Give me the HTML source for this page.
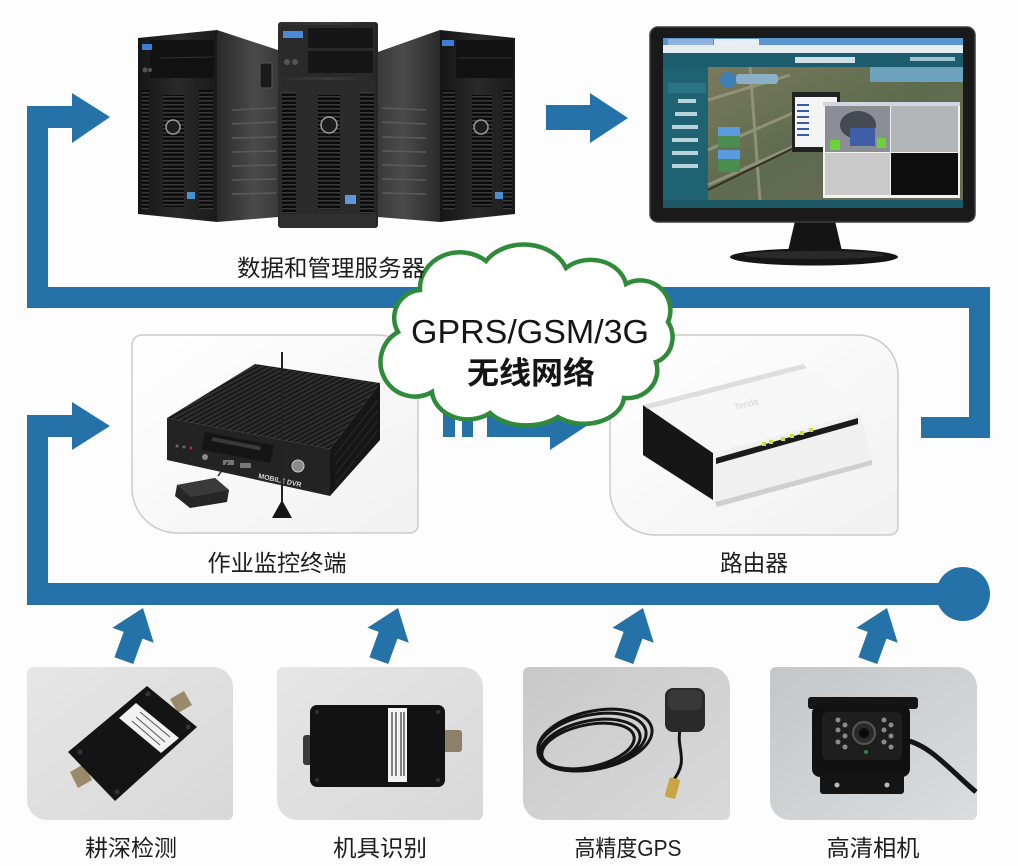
<!DOCTYPE html>
<html><head><meta charset="utf-8"><style>
html,body{margin:0;padding:0;background:#fdfdfd;}
svg{display:block;}
text{font-family:"Liberation Sans","Noto Sans CJK SC",sans-serif;}
</style></head><body>
<svg width="1018" height="866" viewBox="0 0 1018 866" xmlns="http://www.w3.org/2000/svg">
<defs>
<linearGradient id="gFront" x1="0" y1="0" x2="1" y2="0"><stop offset="0" stop-color="#151515"/><stop offset="0.5" stop-color="#2a2a2a"/><stop offset="1" stop-color="#1a1a1a"/></linearGradient>
<linearGradient id="gSideL" x1="0" y1="0" x2="1" y2="0"><stop offset="0" stop-color="#2a2a2a"/><stop offset="0.6" stop-color="#4a4a4a"/><stop offset="1" stop-color="#3a3a3a"/></linearGradient>
<linearGradient id="gSideR" x1="0" y1="0" x2="1" y2="0"><stop offset="0" stop-color="#3a3a3a"/><stop offset="0.4" stop-color="#4a4a4a"/><stop offset="1" stop-color="#2a2a2a"/></linearGradient>
<linearGradient id="gMid" x1="0" y1="0" x2="1" y2="0"><stop offset="0" stop-color="#2c2c2c"/><stop offset="0.5" stop-color="#3a3a3a"/><stop offset="1" stop-color="#262626"/></linearGradient>
<pattern id="slat" width="6" height="4" patternUnits="userSpaceOnUse"><rect width="6" height="4" fill="#0c0c0c"/><rect width="6" height="1.5" fill="#3a3a3a"/></pattern>
<pattern id="fins" width="4" height="4" patternUnits="userSpaceOnUse" patternTransform="rotate(62)"><rect width="4" height="4" fill="#2e2e2e"/><rect width="1.5" height="4" fill="#141414"/></pattern>
<linearGradient id="gCardW" x1="0" y1="0" x2="1" y2="1"><stop offset="0" stop-color="#ffffff"/><stop offset="1" stop-color="#f1f1f1"/></linearGradient>
<linearGradient id="gCard1" x1="0" y1="0" x2="1" y2="1"><stop offset="0" stop-color="#e6e6e6"/><stop offset="1" stop-color="#d8d8d8"/></linearGradient>
<linearGradient id="gCard3" x1="0" y1="0" x2="1" y2="1"><stop offset="0" stop-color="#c9c9c9"/><stop offset="1" stop-color="#d9d9d9"/></linearGradient>
<linearGradient id="gCard4" x1="0" y1="0" x2="1" y2="1"><stop offset="0" stop-color="#c4c6c8"/><stop offset="1" stop-color="#dadcde"/></linearGradient>
<linearGradient id="gMap" x1="0" y1="0" x2="1" y2="1"><stop offset="0" stop-color="#7a7a5c"/><stop offset="0.5" stop-color="#5e6b4e"/><stop offset="1" stop-color="#6c6a55"/></linearGradient>
</defs>

<rect width="1018" height="866" fill="#fdfdfd"/>

<!-- ===== BLUE CONNECTORS ===== -->
<g fill="#2572a8">
  <rect x="27" y="106" width="21" height="202"/>
  <rect x="27" y="106" width="46" height="22"/>
  <polygon points="72,93 110,117 72,143"/>
  <rect x="27" y="287" width="963" height="21"/>
  <rect x="969" y="287" width="21" height="151"/>
  <rect x="921" y="417" width="69" height="21"/>
  <rect x="546" y="105" width="45" height="25"/>
  <polygon points="590,93 628,118 590,143"/>
  <rect x="27" y="415" width="21" height="190"/>
  <rect x="27" y="415" width="46" height="22"/>
  <polygon points="72,402 110,426 72,450"/>
  <rect x="27" y="583" width="936" height="22"/>
  <circle cx="963" cy="594" r="27"/>
  <rect x="443" y="413" width="12" height="24"/>
  <rect x="462" y="413" width="11" height="24"/>
  <rect x="487" y="413" width="65" height="24"/>
  <polygon points="550,400 588,425 550,450"/>
  <g transform="translate(143,608) rotate(20)"><polygon points="0,0 22,29 10,29 10,56 -10,56 -10,29 -22,29"/></g>
  <g transform="translate(398,608) rotate(20)"><polygon points="0,0 22,29 10,29 10,56 -10,56 -10,29 -22,29"/></g>
  <g transform="translate(643,608) rotate(20)"><polygon points="0,0 22,29 10,29 10,56 -10,56 -10,29 -22,29"/></g>
  <g transform="translate(887,608) rotate(20)"><polygon points="0,0 22,29 10,29 10,56 -10,56 -10,29 -22,29"/></g>
</g>

<!-- ===== SERVERS ===== -->
<polygon points="217,30 278,50 278,217 217,222" fill="url(#gSideL)"/>
<g stroke="#5a5a5a" stroke-width="1.5">
  <line x1="232" y1="110" x2="276" y2="108"/><line x1="232" y1="124" x2="276" y2="122"/><line x1="232" y1="138" x2="276" y2="137"/><line x1="232" y1="152" x2="276" y2="151"/><line x1="232" y1="166" x2="276" y2="165"/><line x1="232" y1="180" x2="276" y2="179"/><line x1="232" y1="194" x2="276" y2="193"/>
</g>
<rect x="260" y="63" width="12" height="25" rx="2" fill="#1a1a1a" stroke="#555"/>
<polygon points="138,38 217,30 217,222 138,214" fill="url(#gFront)"/>
<rect x="150" y="40" width="64" height="38" fill="#121212"/>
<line x1="160" y1="58" x2="213" y2="57" stroke="#333"/>
<rect x="142" y="44" width="10" height="6" fill="#3d7fd4"/>
<circle cx="145" cy="70" r="2.5" fill="#555"/><circle cx="150" cy="70" r="2" fill="#555"/>
<rect x="142" y="90" width="7" height="120" fill="url(#slat)"/>
<rect x="163" y="95" width="21" height="112" fill="url(#slat)"/>
<rect x="199" y="90" width="14" height="120" fill="url(#slat)"/>
<circle cx="173" cy="127" r="7" fill="#1d1d1d" stroke="#9a9a9a" stroke-width="1.5"/>
<rect x="187" y="192" width="8" height="7" fill="#4a8fd0"/>
<polygon points="378,52 440,30 440,222 378,217" fill="url(#gSideR)"/>
<g stroke="#5a5a5a" stroke-width="1.5">
  <line x1="382" y1="108" x2="426" y2="110"/><line x1="382" y1="122" x2="426" y2="124"/><line x1="382" y1="137" x2="426" y2="138"/><line x1="382" y1="151" x2="426" y2="152"/><line x1="382" y1="165" x2="426" y2="166"/><line x1="382" y1="179" x2="426" y2="180"/><line x1="382" y1="193" x2="426" y2="194"/>
</g>
<polygon points="440,30 515,38 515,214 440,222" fill="url(#gFront)"/>
<rect x="456" y="40" width="57" height="38" fill="#121212"/>
<line x1="458" y1="58" x2="512" y2="58" stroke="#333"/>
<rect x="442" y="40" width="12" height="6" fill="#3d7fd4"/>
<rect x="443" y="90" width="12" height="120" fill="url(#slat)"/>
<rect x="472" y="95" width="20" height="112" fill="url(#slat)"/>
<rect x="503" y="90" width="9" height="120" fill="url(#slat)"/>
<circle cx="481" cy="127" r="7" fill="#1d1d1d" stroke="#9a9a9a" stroke-width="1.5"/>
<rect x="495" y="192" width="8" height="7" fill="#4a8fd0"/>
<rect x="278" y="22" width="100" height="206" rx="3" fill="url(#gMid)"/>
<rect x="281" y="25" width="94" height="52" fill="#2a2a2a"/>
<rect x="308" y="28" width="65" height="20" fill="#161616"/>
<rect x="308" y="51" width="65" height="22" fill="#161616"/>
<rect x="283" y="31" width="20" height="7" fill="#4a8ad8"/>
<circle cx="287" cy="62" r="3" fill="#555"/><circle cx="295" cy="62" r="3" fill="#555"/>
<path d="M281,80 L375,80 L375,88 L360,95 L360,215 L296,215 L296,95 L281,88 Z" fill="#2b2b2b"/>
<rect x="282" y="92" width="14" height="122" fill="url(#slat)"/>
<rect x="318" y="95" width="22" height="115" fill="url(#slat)"/>
<rect x="360" y="92" width="14" height="122" fill="url(#slat)"/>
<circle cx="329" cy="125" r="8" fill="#1d1d1d" stroke="#a0a0a0" stroke-width="1.5"/>
<rect x="345" y="195" width="11" height="9" fill="#5a9ad8"/>
<rect x="280" y="214" width="96" height="14" fill="#303030"/>

<!-- ===== MONITOR ===== -->
<polygon points="795,221 835,221 842,251 788,251" fill="#141414"/>
<ellipse cx="814" cy="257" rx="84" ry="8.5" fill="#151515"/>
<ellipse cx="814" cy="255" rx="70" ry="4" fill="#2a2a2a"/>
<rect x="650" y="27" width="325" height="195" rx="8" fill="#1a1a1a" stroke="#3c3c3c" stroke-width="1.5"/>
<rect x="663" y="38" width="300" height="170" fill="#1d5f6e"/>
<rect x="663" y="38" width="300" height="7" fill="#5b93cf"/>
<rect x="668" y="39" width="45" height="6" fill="#8fb3de"/>
<rect x="714" y="39" width="45" height="6" fill="#e8eef5"/>
<rect x="663" y="45" width="300" height="8" fill="#e7ecf1"/>
<rect x="663" y="53" width="300" height="14" fill="#1d5c6c"/>
<rect x="795" y="57" width="60" height="6" fill="#cfe0e6"/>
<rect x="910" y="57" width="45" height="4" fill="#9fc4cf"/>
<rect x="663" y="67" width="45" height="136" fill="#1f6373"/>
<g fill="#b8d4da"><rect x="678" y="86" width="18" height="4"/><rect x="678" y="99" width="18" height="4"/><rect x="675" y="112" width="22" height="4"/><rect x="672" y="125" width="26" height="4"/><rect x="672" y="138" width="26" height="4"/><rect x="672" y="151" width="26" height="4"/><rect x="672" y="164" width="26" height="4"/></g>
<rect x="668" y="83" width="38" height="10" fill="#2a7384"/>
<rect x="708" y="67" width="255" height="133" fill="url(#gMap)"/>
<g stroke="#9a9a82" stroke-width="3" fill="none" opacity="0.8">
  <path d="M708,185 L830,130"/><path d="M708,150 L800,110"/><path d="M750,67 L760,200"/><path d="M708,100 L790,75"/>
</g>
<path d="M708,190 L810,140" stroke="#3a2e24" stroke-width="2" fill="none"/>
<rect x="870" y="67" width="93" height="15" fill="#6da2bd"/>
<circle cx="728" cy="80" r="8" fill="#3f7fb5"/>
<rect x="736" y="74" width="42" height="10" rx="3" fill="#8ab0c6"/>
<rect x="718" y="127" width="22" height="20" fill="#4b8c4f"/><rect x="718" y="127" width="22" height="9" fill="#5a9be0"/>
<rect x="718" y="150" width="22" height="22" fill="#4b8c4f"/><rect x="718" y="150" width="22" height="9" fill="#5a9be0"/>
<rect x="792" y="92" width="48" height="60" fill="#222"/>
<rect x="795" y="97" width="42" height="50" fill="#f4f4f4"/>
<g fill="#3a5aa8"><rect x="797" y="104" width="12" height="2"/><rect x="797" y="110" width="12" height="2"/><rect x="797" y="116" width="12" height="2"/><rect x="797" y="122" width="12" height="2"/><rect x="797" y="128" width="12" height="2"/><rect x="797" y="134" width="12" height="2"/></g>
<rect x="823" y="102" width="137" height="96" fill="#f2f2f2"/>
<rect x="823" y="102" width="137" height="4" fill="#cfd6df"/>
<rect x="825" y="106" width="65" height="46" fill="#8b8f95"/>
<ellipse cx="858" cy="125" rx="18" ry="14" fill="#454a52"/>
<rect x="850" y="128" width="25" height="18" fill="#3e5fa8"/>
<rect x="830" y="140" width="10" height="10" fill="#6ed13a"/><rect x="877" y="138" width="9" height="10" fill="#6ed13a"/>
<rect x="891" y="106" width="67" height="46" fill="#b3b6b8"/>
<rect x="825" y="153" width="65" height="42" fill="#c9c9ca"/>
<rect x="891" y="153" width="67" height="42" fill="#0e0e0e"/>
<rect x="663" y="200" width="300" height="8" fill="#1d5867"/>

<!-- ===== MIDDLE CARDS ===== -->
<path d="M142,335 L378,335 A40,40 0 0 1 418,375 L418,525 A8,8 0 0 1 410,533 L177,533 A45,45 0 0 1 132,488 L132,345 A10,10 0 0 1 142,335 Z" fill="url(#gCardW)" stroke="#cbcbcb" stroke-width="1.5"/>
<path d="M620,335 L858,335 A40,40 0 0 1 898,375 L898,527 A8,8 0 0 1 890,535 L655,535 A45,45 0 0 1 610,490 L610,345 A10,10 0 0 1 620,335 Z" fill="url(#gCardW)" stroke="#cbcbcb" stroke-width="1.5"/>

<!-- terminal device -->
<polygon points="167,418 255,364 380,383 330,449" fill="url(#fins)"/>
<polygon points="330,449 380,383 380,440 330,496" fill="#161616"/>
<g stroke="#2c2c2c" stroke-width="1"><line x1="335" y1="455" x2="378" y2="400"/><line x1="335" y1="465" x2="378" y2="410"/><line x1="335" y1="475" x2="378" y2="420"/><line x1="335" y1="485" x2="378" y2="430"/></g>
<polygon points="167,418 330,449 330,496 167,460" fill="#232323"/>
<rect x="205" y="432" width="70" height="18" fill="#151515" transform="rotate(11 205 432)"/>
<rect x="212" y="437" width="50" height="4" rx="2" fill="#3a3a3a" transform="rotate(11 212 437)"/>
<circle cx="177" cy="446" r="1.5" fill="#6a6a6a"/><circle cx="184" cy="447" r="1.5" fill="#6a6a6a"/><circle cx="191" cy="448" r="1.5" fill="#c03030"/>
<circle cx="205" cy="457" r="3" fill="#888"/>
<rect x="223" y="460" width="11" height="5" fill="#777"/><rect x="240" y="463" width="11" height="5" fill="#777"/>
<circle cx="298" cy="466" r="6" fill="#8a8a8a" stroke="#ccc"/>
<text x="258" y="478" font-size="7" fill="#d8d8d8" font-weight="bold" transform="rotate(12 258 478)">MOBILE DVR</text>
<line x1="282" y1="352" x2="282" y2="508" stroke="#222" stroke-width="2"/>
<polygon points="282,500 272,518 292,518" fill="#151515"/>
<line x1="218" y1="476" x2="228" y2="462" stroke="#222" stroke-width="1.5"/>
<path d="M177,485 L215,478 L229,490 L227,502 L190,508 L175,496 Z" fill="#262626"/>
<path d="M177,485 L215,478 L229,490 L191,497 Z" fill="#3a3a3a"/>

<!-- router -->
<polygon points="643,405 713,453 713,500 643,455" fill="#161616"/>
<polygon points="713,453 860,413 872,460 715,502" fill="#f0f0f0"/>
<polygon points="643,405 803,364 860,410 713,453" fill="#f7f7f7"/>
<polygon points="643,405 803,364 807,368 648,409" fill="#dedede"/>
<polygon points="716,458 858,418 858,424 716,464" fill="#1a1a1a"/>
<g fill="#cde02a"><rect x="762" y="442" width="4" height="4"/><rect x="769" y="440" width="4" height="4"/><rect x="781" y="437" width="4" height="4"/><rect x="790" y="434" width="4" height="4"/><rect x="800" y="431" width="4" height="4"/><rect x="809" y="428" width="4" height="4"/></g>
<text x="735" y="410" font-size="9" fill="#d4d4d4" transform="rotate(-14 735 410)">Tenda</text>
<polygon points="715,502 872,460 872,465 717,507" fill="#cfcfcf"/>

<!-- ===== CLOUD ===== -->
<path d="M398,332 A28,28 0 0 1 420,290 A40,36 0 0 1 486,261 A45,36 0 0 1 566,268 A36,30 0 0 1 626,284 A30,30 0 0 1 668,322 A24,26 0 0 1 656,362 A30,28 0 0 1 624,398 A40,28 0 0 1 558,417 A44,28 0 0 1 490,413 A36,30 0 0 1 432,392 A26,26 0 0 1 398,332 Z" fill="#ffffff" stroke="#2f8a3a" stroke-width="4.5"/>
<text x="530" y="343" font-size="33" fill="#151515" text-anchor="middle" textLength="238" lengthAdjust="spacingAndGlyphs">GPRS/GSM/3G</text>
<text x="531" y="384" font-size="31" fill="#151515" text-anchor="middle" font-weight="bold" textLength="128" lengthAdjust="spacingAndGlyphs">无线网络</text>

<!-- ===== BOTTOM CARDS ===== -->
<path d="M33,667 L213,667 A20,20 0 0 1 233,687 L233,814 A6,6 0 0 1 227,820 L47,820 A20,20 0 0 1 27,800 L27,673 A6,6 0 0 1 33,667 Z" fill="url(#gCard1)"/>
<path d="M283,667 L463,667 A20,20 0 0 1 483,687 L483,814 A6,6 0 0 1 477,820 L297,820 A20,20 0 0 1 277,800 L277,673 A6,6 0 0 1 283,667 Z" fill="url(#gCard1)"/>
<path d="M529,667 L710,667 A20,20 0 0 1 730,687 L730,814 A6,6 0 0 1 724,820 L543,820 A20,20 0 0 1 523,800 L523,673 A6,6 0 0 1 529,667 Z" fill="url(#gCard3)"/>
<path d="M776,667 L957,667 A20,20 0 0 1 977,687 L977,814 A6,6 0 0 1 971,820 L790,820 A20,20 0 0 1 770,800 L770,673 A6,6 0 0 1 776,667 Z" fill="url(#gCard4)"/>

<!-- sensor 1 -->
<polygon points="170,699 184,691 192,705 178,713" fill="#9a8a6a"/>
<polygon points="70,772 84,764 92,780 78,788" fill="#9a8a6a"/>
<polygon points="147,686 197,727 115,801 68,752" fill="#141414"/>
<polygon points="136,703 179,738 161,753 119,718" fill="#f2f2f2"/>
<g stroke="#555" stroke-width="1"><line x1="140" y1="712" x2="170" y2="737"/><line x1="136" y1="717" x2="165" y2="742"/><line x1="132" y1="721" x2="160" y2="745"/></g>
<circle cx="80" cy="752" r="2.5" fill="#333"/><circle cx="117" cy="792" r="2.5" fill="#333"/><circle cx="188" cy="727" r="2.5" fill="#333"/><circle cx="148" cy="694" r="2.5" fill="#333"/>

<!-- sensor 2 -->
<rect x="303" y="735" width="10" height="30" rx="3" fill="#3a3a3a"/>
<rect x="443" y="730" width="19" height="22" rx="3" fill="#8d8068"/>
<rect x="310" y="705" width="135" height="82" rx="7" fill="#121212"/>
<rect x="388" y="708" width="19" height="74" fill="#f3f3f3"/>
<g stroke="#333" stroke-width="1.2"><line x1="392" y1="712" x2="392" y2="776"/><line x1="396" y1="712" x2="396" y2="776"/><line x1="401" y1="712" x2="401" y2="776"/><line x1="404" y1="712" x2="404" y2="776"/></g>
<circle cx="317" cy="712" r="2" fill="#333"/><circle cx="438" cy="712" r="2" fill="#333"/><circle cx="317" cy="780" r="2" fill="#333"/><circle cx="438" cy="780" r="2" fill="#333"/>

<!-- GPS -->
<g fill="none" stroke="#141414" stroke-width="3">
  <ellipse cx="592" cy="742" rx="55" ry="27" transform="rotate(-12 592 742)"/>
  <ellipse cx="590" cy="745" rx="51" ry="24" transform="rotate(-12 590 745)"/>
  <ellipse cx="595" cy="740" rx="58" ry="29" transform="rotate(-12 595 740)"/>
  <ellipse cx="588" cy="746" rx="47" ry="21" transform="rotate(-12 588 746)"/>
  <path d="M680,730 C676,750 690,760 672,782"/>
</g>
<rect x="665" y="688" width="40" height="44" rx="8" fill="#2a2a2a"/>
<rect x="668" y="690" width="34" height="20" rx="6" fill="#383838"/>
<rect x="667" y="778" width="11" height="20" rx="2" fill="#c9a444" transform="rotate(15 672 788)"/>

<!-- camera -->
<path d="M905,740 C930,745 950,770 976,792" fill="none" stroke="#151515" stroke-width="5"/>
<rect x="808" y="697" width="110" height="12" rx="3" fill="#151515"/>
<rect x="812" y="705" width="98" height="72" rx="8" fill="#111"/>
<rect x="822" y="712" width="80" height="48" rx="6" fill="#1e1e1e"/>
<circle cx="864" cy="733" r="11" fill="#2a2a2a" stroke="#555" stroke-width="2"/>
<circle cx="864" cy="733" r="5" fill="#0a0a0a"/>
<g fill="#8a8a8a"><circle cx="838" cy="720" r="2.5"/><circle cx="845" cy="725" r="2.5"/><circle cx="838" cy="730" r="2.5"/><circle cx="845" cy="736" r="2.5"/><circle cx="838" cy="742" r="2.5"/><circle cx="845" cy="747" r="2.5"/><circle cx="884" cy="720" r="2.5"/><circle cx="891" cy="725" r="2.5"/><circle cx="884" cy="730" r="2.5"/><circle cx="891" cy="736" r="2.5"/><circle cx="884" cy="742" r="2.5"/><circle cx="891" cy="747" r="2.5"/></g>
<circle cx="866" cy="752" r="2" fill="#2a8a3a"/>
<rect x="820" y="772" width="84" height="22" rx="3" fill="#141414"/>
<circle cx="837" cy="785" r="2.5" fill="#bbb"/><circle cx="887" cy="785" r="2.5" fill="#bbb"/>

<!-- ===== LABELS ===== -->
<g fill="#1e1e1e" font-size="23" text-anchor="middle">
  <text x="331" y="276" textLength="188" lengthAdjust="spacingAndGlyphs">数据和管理服务器</text>
  <text x="277" y="571" textLength="139" lengthAdjust="spacingAndGlyphs">作业监控终端</text>
  <text x="754" y="571" textLength="68" lengthAdjust="spacingAndGlyphs">路由器</text>
  <text x="131" y="856" textLength="92" lengthAdjust="spacingAndGlyphs">耕深检测</text>
  <text x="380" y="856" textLength="94" lengthAdjust="spacingAndGlyphs">机具识别</text>
  <text x="628" y="856" textLength="107" lengthAdjust="spacingAndGlyphs">高精度GPS</text>
  <text x="873" y="856" textLength="93" lengthAdjust="spacingAndGlyphs">高清相机</text>
</g>
</svg>
</body></html>
